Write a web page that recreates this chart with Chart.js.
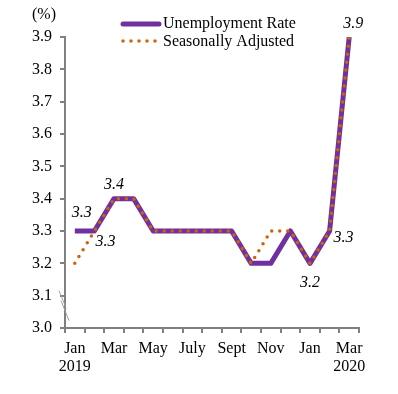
<!DOCTYPE html>
<html>
<head>
<meta charset="utf-8">
<script src="https://cdn.jsdelivr.net/npm/chart.js@4"></script>
<style>
  html, body { margin: 0; padding: 0; background: #fff; }
  #wrap { width: 398px; height: 394px; }
</style>
</head>
<body>
<div id="wrap"><canvas id="chart" width="398" height="394"></canvas></div>
<script>
const months = ["Jan", "Feb", "Mar", "Apr", "May", "June", "July", "Aug", "Sept", "Oct", "Nov", "Dec", "Jan", "Feb", "Mar"];
const years = ["2019", "", "", "", "", "", "", "", "", "", "", "", "", "", "2020"];
const unemployment = [3.3, 3.3, 3.4, 3.4, 3.3, 3.3, 3.3, 3.3, 3.3, 3.2, 3.2, 3.3, 3.2, 3.3, 3.9];
const seasonal = [3.2, 3.3, 3.4, 3.4, 3.3, 3.3, 3.3, 3.3, 3.3, 3.2, 3.3, 3.3, 3.2, 3.3, 3.9];
const yTicks = [3.0, 3.1, 3.2, 3.3, 3.4, 3.5, 3.6, 3.7, 3.8, 3.9];

const PURPLE = "#7030A0";
const ORANGE = "#CC640C";
const GRAY = "#808080";
const FONT = "'Liberation Serif', 'Times New Roman', serif";

// value labels: which series, which month, and where the text sits
const valueLabels = [
  { series: 0, i: 0, dx: 7, dy: -18 },
  { series: 1, i: 1, dx: 11, dy: 11 },
  { series: 0, i: 2, dx: 0, dy: -14 },
  { series: 0, i: 12, dx: 0, dy: 19 },
  { series: 0, i: 13, dx: 14, dy: 7 },
  { series: 0, i: 14, dx: 4, dy: -13 }
];

const extras = {
  id: "extras",
  afterDatasetsDraw(chart) {
    const ctx = chart.ctx;
    const x = chart.scales.x, y = chart.scales.y;
    const series = [unemployment, seasonal];
    ctx.save();

    // value labels
    ctx.fillStyle = "#000";
    ctx.font = "italic 16px " + FONT;
    ctx.textAlign = "center";
    ctx.textBaseline = "middle";
    valueLabels.forEach(l => {
      const v = series[l.series][l.i];
      ctx.fillText(v.toFixed(1), x.getPixelForValue(l.i) + l.dx, y.getPixelForValue(v) + l.dy);
    });

    // unit
    ctx.font = "16px " + FONT;
    ctx.fillText("(%)", 44, 15);

    // legend
    ctx.textAlign = "left";
    ctx.lineCap = "round";
    ctx.strokeStyle = PURPLE;
    ctx.lineWidth = 5;
    ctx.beginPath();
    ctx.moveTo(123, 24);
    ctx.lineTo(159, 24);
    ctx.stroke();
    ctx.strokeStyle = ORANGE;
    ctx.lineWidth = 3.5;
    ctx.setLineDash([0, 8]);
    ctx.beginPath();
    ctx.moveTo(123, 41);
    ctx.lineTo(160, 41);
    ctx.stroke();
    ctx.setLineDash([]);
    ctx.fillText("Unemployment Rate", 163, 24);
    ctx.fillText("Seasonally Adjusted", 163, 42);

    // axis break marks
    const left = x.left;
    const yTop = y.getPixelForValue(3.1) - 5;
    ctx.strokeStyle = "#a0a0a0";
    ctx.lineWidth = 1;
    ctx.lineCap = "butt";
    ctx.beginPath();
    ctx.moveTo(left - 6, yTop);
    ctx.lineTo(left + 1, yTop + 17);
    ctx.moveTo(left - 4, yTop + 10);
    ctx.lineTo(left + 4, yTop + 30);
    ctx.stroke();
    ctx.restore();
  }
};

new Chart(document.getElementById("chart"), {
  type: "line",
  data: {
    labels: months,
    datasets: [
      {
        label: "Unemployment Rate",
        data: unemployment,
        borderColor: PURPLE,
        borderWidth: 5,
        pointRadius: 0,
        tension: 0,
        borderJoinStyle: "round",
        order: 1
      },
      {
        label: "Seasonally Adjusted",
        data: seasonal,
        borderColor: ORANGE,
        borderWidth: 3.5,
        borderDash: [0, 8],
        borderCapStyle: "round",
        pointRadius: 0,
        tension: 0,
        order: 0
      }
    ]
  },
  options: {
    responsive: false,
    animation: false,
    layout: { padding: { left: 0, top: 37, right: 39, bottom: 0 } },
    plugins: { legend: { display: false }, tooltip: { enabled: false } },
    scales: {
      x: {
        offset: true,
        afterFit(scale) { scale.height = 66; },
        grid: { offset: true, drawOnChartArea: false, tickLength: 5, color: GRAY, lineWidth: 2 },
        border: { color: GRAY, width: 2 },
        ticks: {
          autoSkip: false,
          maxRotation: 0,
          padding: 7,
          color: "#000",
          font: { family: FONT, size: 16, lineHeight: 1.12 },
          callback(v, i) {
            if (i % 2) return "";
            return years[i] ? [months[i], years[i]] : months[i];
          }
        }
      },
      y: {
        min: 3.0,
        max: 3.9,
        afterFit(scale) { scale.width = 65; },
        afterBuildTicks(scale) { scale.ticks = yTicks.map(v => ({ value: v })); },
        grid: { drawOnChartArea: false, tickLength: 5, color: GRAY, lineWidth: 2 },
        border: { color: GRAY, width: 2 },
        ticks: {
          padding: 8,
          color: "#000",
          font: { family: FONT, size: 16 },
          callback: v => v.toFixed(1)
        }
      }
    }
  },
  plugins: [extras]
});
</script>
</body>
</html>
